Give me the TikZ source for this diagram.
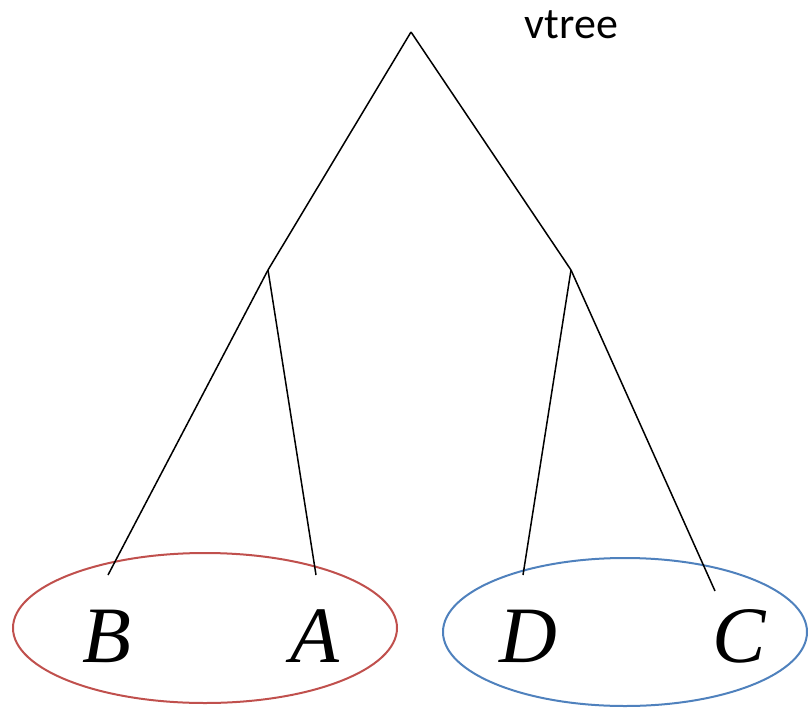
\documentclass[tikz,border=0pt]{standalone}
\usepackage{fontspec}
\setmainfont{Liberation Serif}
\newfontfamily\labelfont{Carlito}
\usetikzlibrary{positioning,shapes.geometric}

\begin{document}
\begin{tikzpicture}[x=1pt,y=-1pt,on grid,line width=1.5pt,
    leaf/.style={font=\fontsize{80}{80}\selectfont\itshape,anchor=base,inner sep=0pt},
    group/.style={draw,ellipse,line width=2pt,inner sep=0pt}]
   \useasboundingbox (0,0) rectangle (808,709);
   \definecolor{grpred}{RGB}{192,80,77}
   \definecolor{grpblue}{RGB}{79,129,189}
   % the two groups of leaves
   \node[group,draw=grpred,minimum width=384pt,minimum height=150pt] (gBA) at (205,628) {};
   \node[group,draw=grpblue,minimum width=364pt,minimum height=148pt] (gDC) at (625,632) {};
   % tree
   \node[coordinate] (root) at (411,32) {};
   \node[coordinate,below left=238pt and 143pt of root] (n_l) {};
   \node[coordinate,below right=238pt and 160pt of root] (n_r) {};
   \node[coordinate] (e_b) at (108,575) {};
   \node[coordinate] (e_a) at (316,575) {};
   \node[coordinate] (e_d) at (523,575) {};
   \node[coordinate] (e_c) at (715,591) {};
   \node[leaf] (B) at (107,662) {B};
   \node[leaf] (A) at (315,662) {A};
   \node[leaf] (D) at (528,662) {D};
   \node[leaf] (C) at (739,662) {C};
   \node[font=\labelfont\fontsize{44}{44}\selectfont,anchor=base west,inner sep=0pt] (title) at (524,38) {vtree};
    \path[draw]
    (root) edge (n_l)
           edge (n_r)
    (n_l) edge (e_b)
          edge (e_a)
    (n_r) edge (e_d)
          edge (e_c);
\end{tikzpicture}
\end{document}
